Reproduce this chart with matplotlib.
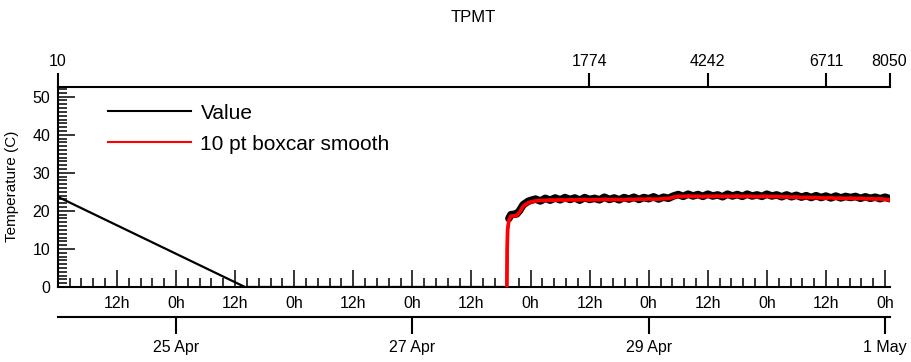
import matplotlib
matplotlib.use("Agg")
import matplotlib.pyplot as plt
from matplotlib.ticker import FixedLocator, MultipleLocator, NullLocator
from matplotlib.lines import Line2D

plt.rcParams["font.family"] = ["Liberation Sans", "DejaVu Sans"]

# time axis: hours since 24 Apr 00:00
x_max = 168.9

# start of record: index 10 then drop to zero
value_hours_start = [0.0, 38.0, 91.2, 91.25, 91.35, 91.6]
value_start = [23.7, 0.0, 0.0, 10.0, 15.5, 18.0]

# sensor warm-up after restart
ramp_hours = [91.2, 91.25, 91.35, 91.6, 92.0, 92.6, 93.2, 93.8, 94.5, 95.5, 96.2]
value_ramp = [0.0, 10.0, 15.5, 18.0, 19.0, 19.1, 19.2, 20.1, 21.6, 22.5, 22.8]
smooth_ramp = [0.0, 10.0, 15.0, 17.5, 18.6, 18.7, 18.8, 19.7, 21.2, 22.1, 22.4]

# steady part, read roughly once per hour
band_hours = list(range(97, 169)) + [168.9]
value_band = [
    23.1, 22.6, 23.3, 22.8, 23.4, 22.9, 23.5, 23.0, 23.4, 22.8,
    23.5, 23.0, 23.3, 22.9, 23.6, 23.0, 23.4, 22.9, 23.5, 23.1,
    23.6, 23.0, 23.5, 23.2, 23.7, 23.1, 23.6, 23.3, 23.9, 24.3,
    23.8, 24.4, 23.9, 24.3, 23.8, 24.4, 23.9, 24.2, 23.7, 24.4,
    23.9, 24.3, 23.8, 24.4, 23.9, 24.2, 23.8, 24.4, 23.9, 24.2,
    23.7, 24.2, 23.7, 24.1, 23.6, 24.0, 23.5, 24.0, 23.5, 23.9,
    23.4, 23.9, 23.4, 23.8, 23.5, 23.8, 23.3, 23.7, 23.3, 23.6,
    23.2, 23.6, 23.2,
]
smooth_band = [
    22.6, 22.75, 22.7, 22.85, 22.8, 22.9, 22.8, 22.95, 22.85, 22.9,
    23.0, 22.85, 22.95, 22.9, 23.05, 22.9, 23.0, 22.95, 22.85, 23.05,
    22.95, 23.1, 23.0, 23.15, 23.05, 23.1, 23.2, 23.25, 23.6, 23.85,
    23.75, 23.9, 23.8, 23.85, 23.7, 23.85, 23.8, 23.9, 23.75, 23.85,
    23.8, 23.9, 23.75, 23.85, 23.8, 23.7, 23.85, 23.8, 23.75, 23.8,
    23.65, 23.7, 23.6, 23.65, 23.5, 23.55, 23.45, 23.5, 23.4, 23.35,
    23.45, 23.3, 23.35, 23.25, 23.35, 23.2, 23.3, 23.15, 23.2, 23.1,
    23.15, 23.0, 22.9,
]

# point index axis (top)
index_labels = ["10", "1774", "4242", "6711", "8050"]
index_hours = [0.0, 107.9, 132.0, 156.0, 168.9]

# hour and date axes (bottom)
hour_ticks = list(range(12, 169, 12))
hour_labels = ["12h" if h % 24 == 12 else "0h" for h in hour_ticks]
date_ticks = [24, 72, 120, 168]
date_labels = ["25 Apr", "27 Apr", "29 Apr", "1 May"]

W, H = 912, 362
fig = plt.figure(figsize=(W / 100, H / 100), dpi=100)
left, right, top, bottom = 57.8, 889.5, 86.6, 287.0
ax = fig.add_axes([left / W, 1 - bottom / H, (right - left) / W, (bottom - top) / H])

# raw values: thin where sparse, thick band where noisy
ax.plot(value_hours_start, value_start, color="black", lw=1.6, zorder=2)
ax.plot(ramp_hours[3:] + band_hours, value_ramp[3:] + value_band,
        color="black", lw=5.4, solid_joinstyle="round", solid_capstyle="round",
        zorder=2)
ax.plot(ramp_hours + band_hours, smooth_ramp + smooth_band,
        color="#ff0000", lw=2.7, zorder=3)

ax.set_xlim(0, x_max)
ax.set_ylim(0, 52.65)

for s in ["top", "right"]:
    ax.spines[s].set_visible(False)
for s in ["left", "bottom"]:
    ax.spines[s].set_linewidth(1.5)

ax.yaxis.set_major_locator(MultipleLocator(10))
ax.yaxis.set_minor_locator(MultipleLocator(1))
ax.xaxis.set_major_locator(FixedLocator(hour_ticks))
ax.xaxis.set_minor_locator(MultipleLocator(2.4))
ax.set_xticklabels(hour_labels)

ax.tick_params(axis="both", which="major", direction="in", length=12, width=1.1,
               labelsize=11.5, pad=5.5)
ax.tick_params(axis="both", which="minor", direction="in", length=6.2, width=1.1)
ax.tick_params(axis="x", which="major", pad=6.5)

ax.set_ylabel("Temperature (C)", fontsize=11)
ax.yaxis.set_label_coords(-39 / (right - left), 0.5)

# top axis with point numbers
top_ax = ax.secondary_xaxis("top")
top_ax.set_xticks(index_hours)
top_ax.set_xticklabels(index_labels)
top_ax.xaxis.set_minor_locator(NullLocator())
top_ax.spines["top"].set_linewidth(1.5)
top_ax.tick_params(direction="out", length=10, width=1.5, labelsize=11.5, pad=3)

# date axis below the hours
date_ax = ax.secondary_xaxis(-29.7 / (bottom - top))
date_ax.set_xticks(date_ticks)
date_ax.set_xticklabels(date_labels)
date_ax.xaxis.set_minor_locator(NullLocator())
date_ax.spines["bottom"].set_linewidth(1.5)
date_ax.tick_params(direction="out", length=12, width=1.5, labelsize=11.5, pad=5)

handles = [Line2D([], [], color="black", lw=1.5),
           Line2D([], [], color="#ff0000", lw=1.5)]
ax.legend(handles, ["Value", "10 pt boxcar smooth"], loc="upper left",
          bbox_to_anchor=(0.06, 0.915), frameon=False, fontsize=15,
          handlelength=4.0, handletextpad=0.45, labelspacing=0.58, borderpad=0,
          borderaxespad=0)

fig.text((left + right) / 2 / W, 1 - 18 / H, "TPMT", ha="center", va="center",
         fontsize=12)

fig.savefig("out.png", dpi=100)
